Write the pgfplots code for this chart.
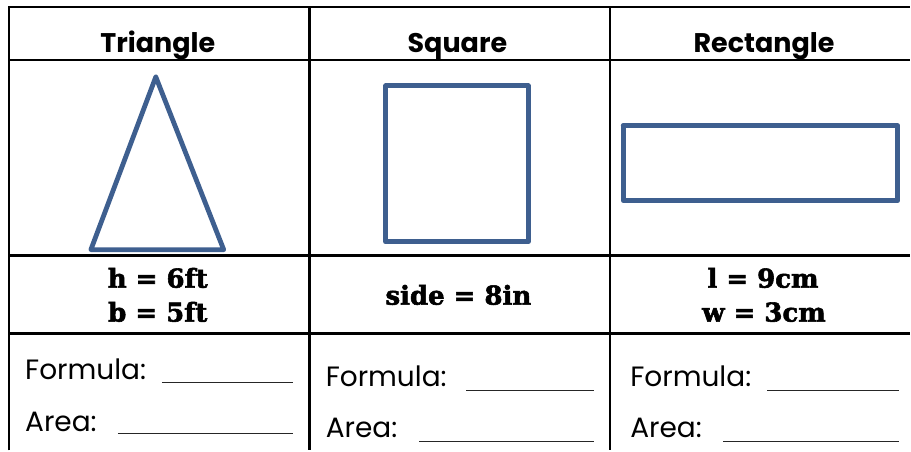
\documentclass[border=0pt]{standalone}
\usepackage{pgfplots}
\pgfplotsset{compat=1.18}
\usepackage{fontspec}
\setmainfont{Poppins}
\newfontfamily\measfont{DejaVu Serif}[BoldFeatures={FakeBold=2.2}]
\definecolor{shapeblue}{RGB}{62,95,143}
\begin{document}
\begin{tikzpicture}
\begin{axis}[width=911pt,height=451pt,scale only axis,
  xmin=0,xmax=911,ymin=0,ymax=451,y dir=reverse,hide axis,clip=false]
\path[fill=white] (rel axis cs:0,0) rectangle (rel axis cs:1,1);
% table grid
\addplot[black,line width=2.4pt,mark=none] coordinates {(9,451) (9,7) (911,7)};
\addplot[black,line width=2.4pt,mark=none] coordinates {(9,60) (911,60)};
\addplot[black,line width=2.4pt,mark=none] coordinates {(9,256) (911,256)};
\addplot[black,line width=2.4pt,mark=none] coordinates {(9,334) (911,334)};
\addplot[black,line width=2.4pt,mark=none] coordinates {(310,7) (310,451)};
\addplot[black,line width=2.4pt,mark=none] coordinates {(611,7) (611,451)};
% shapes
\addplot[shapeblue,line width=4.8pt,line join=round,line cap=round,mark=none] coordinates {(156,77) (224,250) (91,250) (156,77)};
\addplot[shapeblue,line width=4.8pt,line join=round,line cap=round,mark=none] coordinates {(386,86) (529,86) (529,242) (386,242) (386,86)};
\addplot[shapeblue,line width=4.8pt,line join=round,line cap=round,mark=none] coordinates {(624,126) (899,126) (899,201) (624,201) (624,126)};
% answer lines
\addplot[black!85,line width=1.2pt,mark=none] coordinates {(162,383) (293,383)};
\addplot[black!85,line width=1.2pt,mark=none] coordinates {(118,434) (293,434)};
\addplot[black!85,line width=1.2pt,mark=none] coordinates {(467,391) (595,391)};
\addplot[black!85,line width=1.2pt,mark=none] coordinates {(420,442) (595,442)};
\addplot[black!85,line width=1.2pt,mark=none] coordinates {(768,391) (900,391)};
\addplot[black!85,line width=1.2pt,mark=none] coordinates {(724,442) (900,442)};
% text
\tikzset{hd/.style={anchor=base,inner sep=0pt,font=\fontsize{27}{30}\selectfont\bfseries},
  ms/.style={anchor=base,inner sep=0pt,font=\measfont\fontsize{26}{28}\selectfont\bfseries},
  bd/.style={anchor=base west,inner sep=0pt,font=\fontsize{28}{30}\selectfont}}
\node[hd] at (axis cs:158,53) {Triangle};
\node[hd] at (axis cs:458,53) {Square};
\node[hd] at (axis cs:765,53) {Rectangle};
\node[ms] at (axis cs:158,288) {h = 6ft};
\node[ms] at (axis cs:158,322) {b = 5ft};
\node[ms] at (axis cs:459,305) {side = 8in};
\node[ms] at (axis cs:764,288) {l = 9cm};
\node[ms] at (axis cs:765,322) {w = 3cm};
\node[bd] at (axis cs:25,380) {Formula:};
\node[bd] at (axis cs:25,432) {Area:};
\node[bd] at (axis cs:326,387) {Formula:};
\node[bd] at (axis cs:326,438) {Area:};
\node[bd] at (axis cs:631,387) {Formula:};
\node[bd] at (axis cs:631,438) {Area:};
\end{axis}
\end{tikzpicture}
\end{document}
